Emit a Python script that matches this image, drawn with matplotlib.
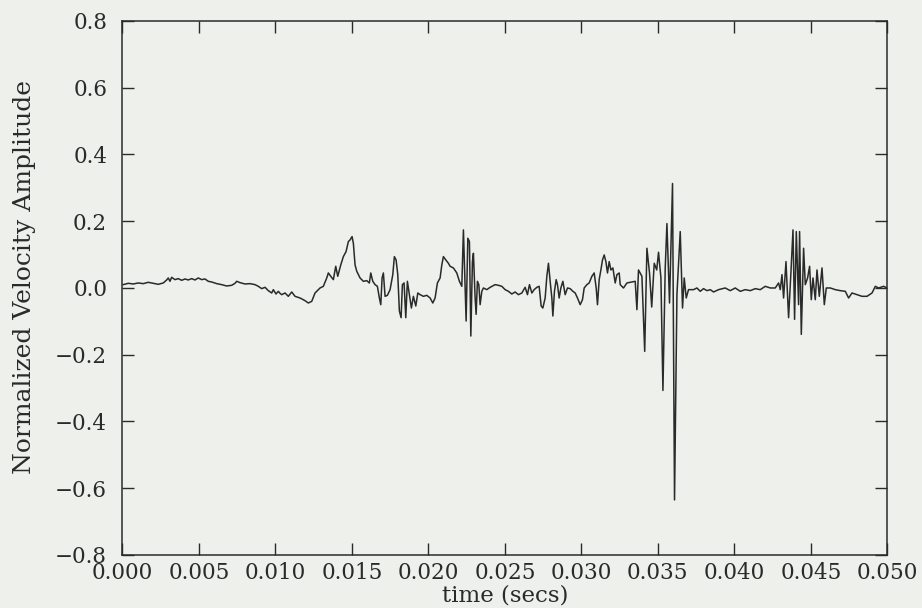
import numpy as np
import matplotlib
matplotlib.use("Agg")
import matplotlib.pyplot as plt

# time in milliseconds
t_ms = [
    0.052, 0.379, 0.706, 1.033, 1.360, 1.687, 2.014, 2.341, 2.668, 2.891, 2.995, 3.107, 3.218, 3.434,
    3.649, 3.872, 4.088, 4.303, 4.526, 4.742, 4.957, 5.180, 5.396, 5.612, 5.834, 6.161, 6.488, 6.815,
    7.142, 7.358, 7.469, 7.685, 8.012, 8.339, 8.666, 8.882, 9.104, 9.320, 9.536, 9.758, 9.863, 10.039,
    10.190, 10.301, 10.412, 10.628, 10.844, 11.066, 11.282, 11.609, 11.936, 12.152, 12.374, 12.590,
    12.917, 13.133, 13.355, 13.460, 13.617, 13.787, 13.943, 14.074, 14.271, 14.441, 14.617, 14.768,
    14.879, 15.010, 15.095, 15.206, 15.317, 15.533, 15.749, 15.971, 16.141, 16.233, 16.364, 16.514,
    16.665, 16.795, 16.887, 16.972, 17.057, 17.168, 17.319, 17.495, 17.672, 17.776, 17.888, 17.998,
    18.103, 18.215, 18.300, 18.410, 18.521, 18.626, 18.757, 18.888, 19.019, 19.176, 19.307, 19.457,
    19.673, 19.895, 20.111, 20.288, 20.438, 20.589, 20.765, 20.876, 20.981, 21.138, 21.308, 21.419,
    21.635, 21.857, 22.027, 22.184, 22.289, 22.466, 22.577, 22.682, 22.774, 22.878, 22.943, 23.054,
    23.120, 23.205, 23.296, 23.381, 23.492, 23.597, 23.819, 24.035, 24.362, 24.578, 24.800, 25.016,
    25.232, 25.454, 25.670, 25.886, 26.108, 26.324, 26.475, 26.606, 26.763, 26.913, 27.090, 27.240,
    27.371, 27.481, 27.632, 27.743, 27.848, 27.959, 28.070, 28.136, 28.240, 28.352, 28.437, 28.548,
    28.659, 28.790, 28.941, 29.091, 29.268, 29.444, 29.595, 29.745, 29.922, 30.072, 30.183, 30.360,
    30.510, 30.687, 30.837, 30.968, 31.053, 31.164, 31.275, 31.380, 31.491, 31.602, 31.707, 31.818,
    31.929, 32.060, 32.211, 32.322, 32.472, 32.538, 32.754, 32.976, 33.303, 33.519, 33.630, 33.735,
    33.957, 34.140, 34.284, 34.454, 34.598, 34.762, 34.925, 35.043, 35.200, 35.331, 35.481, 35.592,
    35.762, 35.958, 36.089, 36.246, 36.462, 36.612, 36.723, 36.854, 37.005, 37.332, 37.554, 37.770,
    37.986, 38.208, 38.424, 38.640, 38.967, 39.404, 39.731, 40.058, 40.386, 40.713, 41.040, 41.367,
    41.694, 42.021, 42.348, 42.675, 42.891, 43.002, 43.113, 43.218, 43.375, 43.545, 43.702, 43.833,
    43.937, 44.049, 44.199, 44.264, 44.376, 44.526, 44.637, 44.788, 44.918, 45.030, 45.141, 45.291,
    45.402, 45.553, 45.729, 45.880, 46.010, 46.272, 46.599, 46.926, 47.253, 47.469, 47.691, 48.018,
    48.345, 48.672, 48.999, 49.215, 49.431, 49.758, 49.980,
]

amplitude = [
    0.010, 0.014, 0.012, 0.015, 0.013, 0.017, 0.014, 0.011, 0.015, 0.024, 0.030, 0.020, 0.032, 0.025,
    0.028, 0.023, 0.027, 0.024, 0.028, 0.024, 0.030, 0.025, 0.027, 0.020, 0.018, 0.013, 0.010, 0.006,
    0.008, 0.014, 0.020, 0.016, 0.012, 0.013, 0.010, 0.005, -0.002, 0.002, -0.008, -0.015, -0.005, -0.018,
    -0.010, -0.016, -0.020, -0.015, -0.025, -0.012, -0.025, -0.030, -0.038, -0.045, -0.040, -0.015,
    0.000, 0.005, 0.030, 0.045, 0.035, 0.025, 0.065, 0.035, 0.069, 0.094, 0.109, 0.139,
    0.144, 0.154, 0.134, 0.069, 0.050, 0.030, 0.020, 0.022, 0.015, 0.045, 0.020, 0.010,
    0.005, -0.030, -0.050, 0.030, 0.045, -0.025, -0.022, -0.005, 0.040, 0.094, 0.084, 0.040,
    -0.069, -0.089, 0.010, 0.015, -0.089, 0.020, -0.020, -0.060, -0.025, -0.054, -0.015, -0.020,
    -0.025, -0.022, -0.030, -0.045, -0.030, 0.015, 0.030, 0.069, 0.094, 0.084, 0.074, 0.065,
    0.060, 0.045, 0.020, 0.005, 0.174, -0.099, 0.149, 0.139, -0.144, 0.079, 0.104, -0.030,
    -0.079, 0.020, 0.010, -0.050, -0.010, 0.000, -0.005, 0.002, 0.010, 0.008, 0.005, -0.005,
    -0.010, -0.018, -0.012, -0.020, -0.015, 0.002, -0.020, 0.010, -0.015, -0.005, 0.002, 0.005,
    -0.054, -0.060, -0.030, 0.035, 0.074, 0.020, -0.030, -0.084, -0.010, 0.025, 0.010, -0.030,
    0.000, 0.020, -0.020, 0.000, -0.002, -0.010, -0.015, -0.030, -0.050, -0.035, 0.000, 0.010,
    0.015, 0.035, 0.045, 0.000, -0.050, 0.025, 0.054, 0.084, 0.099, 0.079, 0.045, 0.079,
    0.054, 0.060, 0.015, 0.040, 0.045, 0.010, 0.000, 0.015, 0.018, 0.020, -0.065, 0.054,
    0.035, -0.190, 0.119, 0.045, -0.057, 0.074, 0.054, 0.107, 0.030, -0.307, 0.060, 0.193,
    -0.045, 0.313, -0.635, -0.020, 0.169, -0.060, 0.030, -0.030, -0.005, -0.005, 0.000, -0.010,
    -0.002, -0.008, -0.005, -0.012, -0.005, 0.000, -0.008, 0.000, -0.010, -0.005, -0.008, -0.002,
    -0.005, 0.005, 0.000, 0.000, 0.015, -0.005, 0.040, -0.030, 0.079, -0.089, 0.050, 0.174,
    -0.094, 0.169, -0.050, 0.169, -0.139, 0.119, 0.010, 0.030, 0.065, -0.035, 0.030, -0.035,
    0.054, -0.025, 0.060, -0.050, 0.000, 0.000, -0.005, -0.008, -0.010, -0.030, -0.015, -0.020,
    -0.025, -0.025, -0.015, 0.005, 0.000, 0.005, 0.000,
]

x_ticks = [0.000, 0.005, 0.010, 0.015, 0.020, 0.025, 0.030, 0.035, 0.040, 0.045, 0.050]
y_ticks = [-0.8, -0.6, -0.4, -0.2, 0.0, 0.2, 0.4, 0.6, 0.8]

plt.rcParams['font.family'] = ['DejaVu Serif']
paper = '#eef0ec'
ink = '#2a2a2a'

fig = plt.figure(figsize=(9.22, 6.08), dpi=100, facecolor=paper)
ax = fig.add_axes([0.1328, 0.0872, 0.8296, 0.8783])
ax.set_facecolor(paper)

t = np.array(t_ms) / 1000.0
ax.plot(t, amplitude, color=ink, lw=1.1)

ax.set_xlim(0.0, 0.05)
ax.set_ylim(-0.8, 0.8)
ax.set_xticks(x_ticks)
ax.set_xticklabels([f"{v:.3f}" for v in x_ticks])
ax.set_yticks(y_ticks)
ax.set_yticklabels([f"{v:.1f}".replace('-', '\u2212') for v in y_ticks])
ax.tick_params(direction='in', length=8.5, width=1.0, labelsize=15.5, colors=ink,
               top=True, right=True)
ax.tick_params(axis='x', pad=5)
ax.tick_params(axis='y', pad=11)
for s in ax.spines.values():
    s.set_linewidth(1.1)
    s.set_color(ink)

ax.set_xlabel('time (secs)', fontsize=16.5, color=ink)
ax.xaxis.set_label_coords(0.5, -0.0974)
ax.xaxis.label.set_verticalalignment('bottom')
ax.set_ylabel('Normalized Velocity Amplitude', fontsize=18, color=ink)
ax.yaxis.set_label_coords(-0.1136, 0.52)

fig.savefig('out.png', dpi=100, facecolor=paper)
